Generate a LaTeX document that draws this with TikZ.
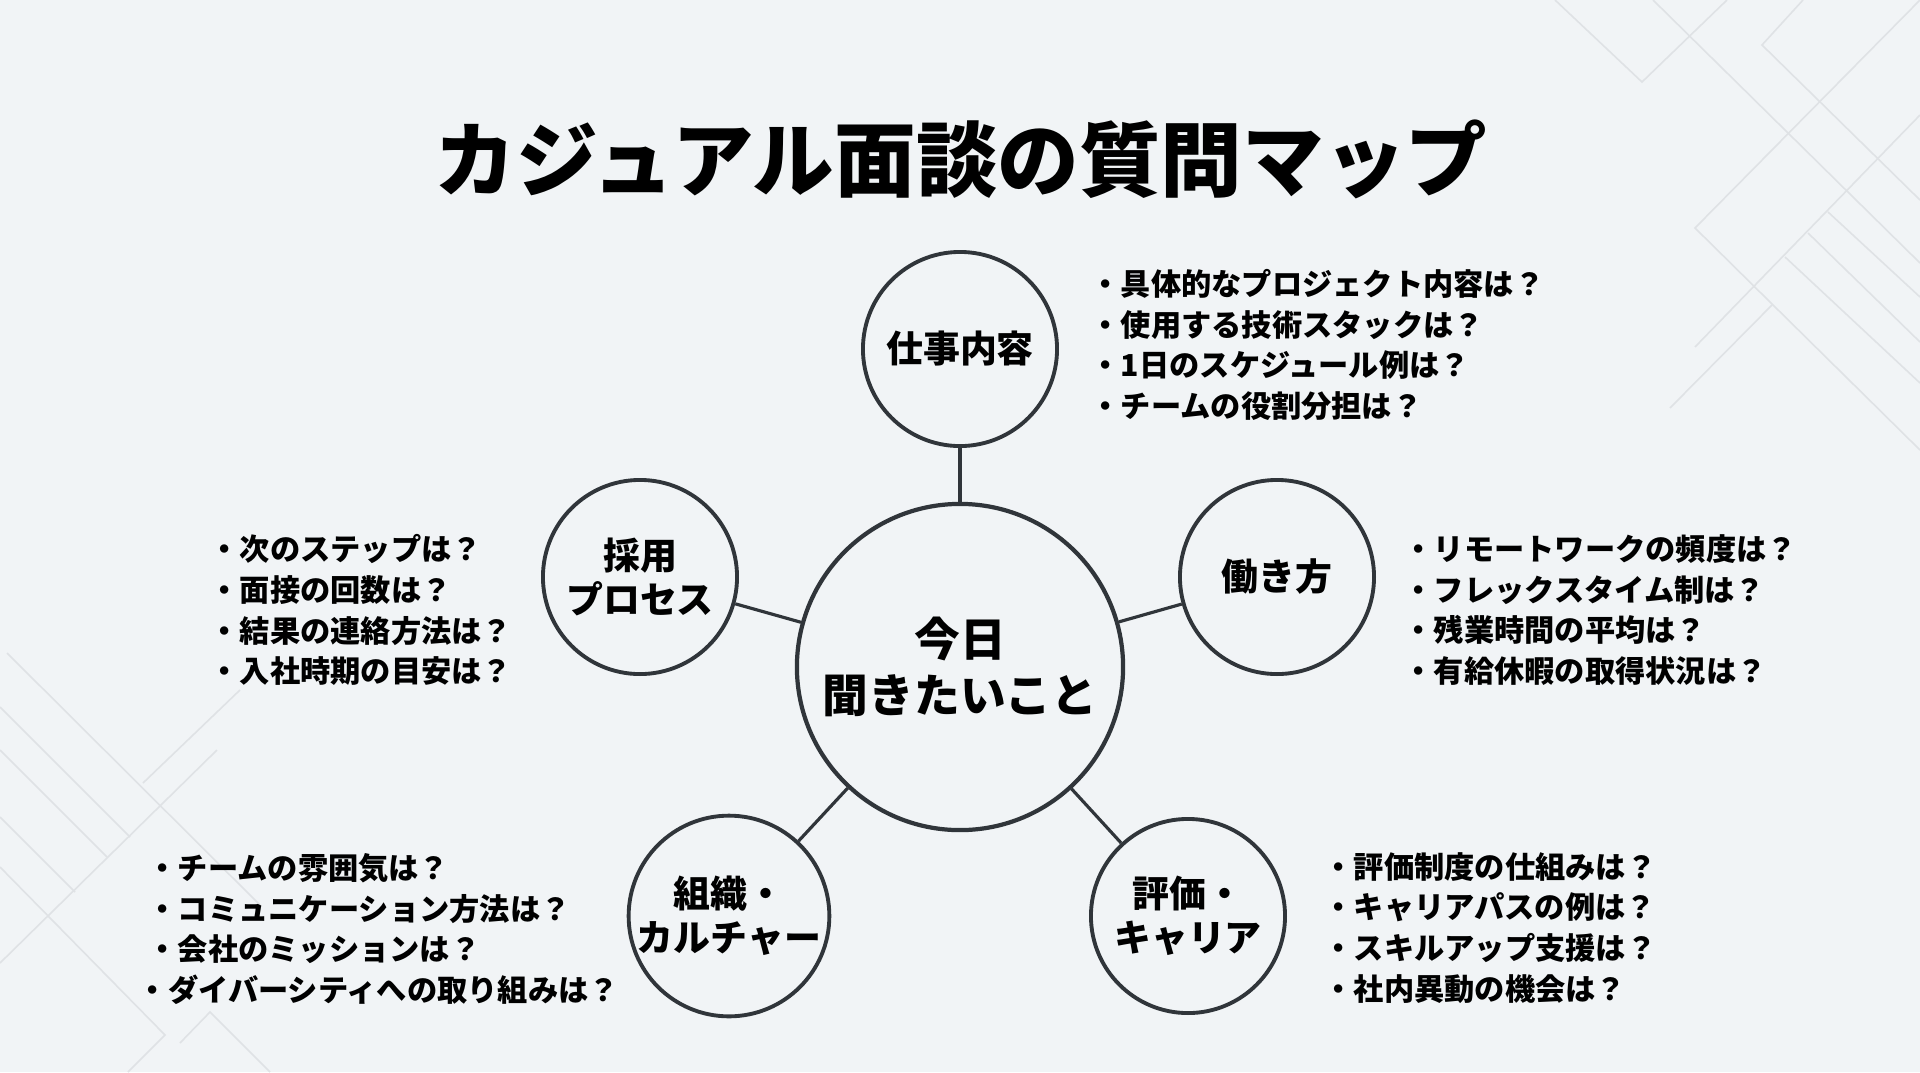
\documentclass[tikz,border=0pt]{standalone}
\usepackage{fontspec}
\newfontfamily\jp{Noto Sans CJK JP}
\usetikzlibrary{positioning}
\definecolor{bgcol}{HTML}{F1F4F6}
\definecolor{ink}{HTML}{30353A}
\definecolor{decocol}{HTML}{DFE2E5}
\tikzstyle{hub}=[circle,draw=ink,fill=bgcol,line width=1.2pt,minimum size=3.26cm,inner sep=0pt,align=center,font=\jp\bfseries\fontsize{13}{16}\selectfont]
\tikzstyle{topic}=[circle,draw=ink,fill=bgcol,line width=1.1pt,minimum size=1.94cm,inner sep=0pt,align=center,font=\jp\bfseries\fontsize{10.5}{12.5}\selectfont]
\tikzstyle{qlist}=[anchor=west,align=left,inner sep=0pt,font=\jp\bfseries\fontsize{8.6}{11.6}\selectfont]
\tikzstyle{link}=[draw=ink,line width=0.9pt]
\tikzstyle{deco}=[draw=decocol,line width=0.45pt]

\begin{document}
\begin{tikzpicture}[x=0.01cm,y=-0.01cm]
  \fill[bgcol] (0,0) rectangle (1920,1072);
  \useasboundingbox (0,0) rectangle (1920,1072);
  % background lines
  \draw[deco] (1555,0) -- (1642,82) -- (1727,0);
  \draw[deco] (1653,0) -- (1920,263);
  \draw[deco] (1803,0) -- (1762,45) -- (1920,200);
  \draw[deco] (1920,0) -- (1695,228) -- (1920,450);
  \draw[deco] (1920,115) -- (1695,347);
  \draw[deco] (1828,212) -- (1920,297);
  \draw[deco] (1808,233) -- (1920,342);
  \draw[deco] (1785,257) -- (1920,383);
  \draw[deco] (1772,305) -- (1670,408);
  \draw[deco] (7,653) -- (260,905);
  \draw[deco] (0,707) -- (130,837);
  \draw[deco] (0,750) -- (107,857);
  \draw[deco] (0,817) -- (75,892);
  \draw[deco] (217,750) -- (0,963);
  \draw[deco] (143,783) -- (240,690);
  \draw[deco] (0,867) -- (165,1035) -- (128,1072);
  \draw[deco] (180,1043) -- (210,1012) -- (270,1072);

  \node[font=\jp\bfseries\fontsize{23.2}{23.2}\selectfont] (title) at (961,159) {カジュアル面談の質問マップ};

  \node[hub] (today) at (960,667) {今日\\聞きたいこと};
  \node[topic] (work) at (960,349) {仕事内容};
  \node[topic] (style) at (1277,577) {働き方};
  \node[topic] (hire) at (640,577) {採用\\プロセス};
  \node[topic] (org) at (729,916) {組織・\\カルチャー};
  \node[topic] (eval) at (1188,916) {評価・\\キャリア};

  \foreach \t in {work,style,hire,org,eval}
    \draw[link] (today) -- (\t);

  \node[qlist] (workq) at (1090,345) {・具体的なプロジェクト内容は？\\・使用する技術スタックは？\\・1日のスケジュール例は？\\・チームの役割分担は？};
  \node[qlist] (styleq) at (1403,610) {・リモートワークの頻度は？\\・フレックスタイム制は？\\・残業時間の平均は？\\・有給休暇の取得状況は？};
  \node[qlist] (hireq) at (209,610) {・次のステップは？\\・面接の回数は？\\・結果の連絡方法は？\\・入社時期の目安は？};
  \node[qlist] (orgq) at (147,929) {・チームの雰囲気は？\\・コミュニケーション方法は？\\・会社のミッションは？\\\hspace*{-2.8pt}・ダイバーシティへの取り組みは？};
  \node[qlist] (evalq) at (1323,928) {・評価制度の仕組みは？\\・キャリアパスの例は？\\・スキルアップ支援は？\\・社内異動の機会は？};
\end{tikzpicture}
\end{document}
